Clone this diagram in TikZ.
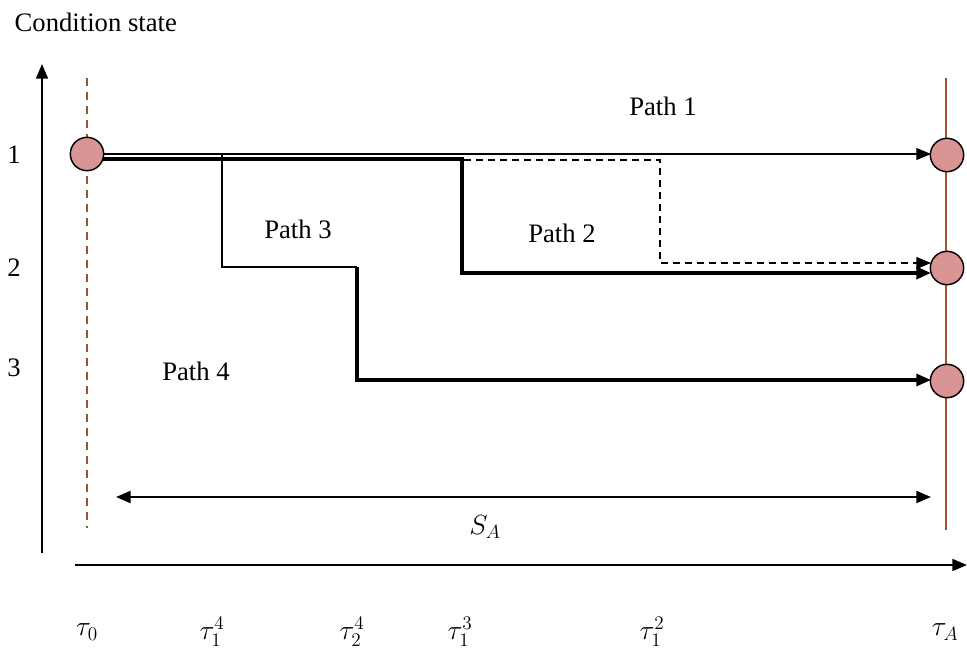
\documentclass[tikz,border=0pt]{standalone}
\usepackage{fontspec}
\setmainfont{Liberation Serif}
\usetikzlibrary{arrows.meta}

\begin{document}
\begin{tikzpicture}[x=0.75pt, y=-0.75pt, >={Triangle[length=11pt,width=9pt]},
  state/.style = {circle, draw, line width=1.1pt, fill=statepink, minimum size=25pt, inner sep=0pt},
  lbl/.style = {font=\fontsize{20}{24}\selectfont},
  tick/.style = {font=\fontsize{22}{26}\selectfont}]
\definecolor{statepink}{HTML}{D99594}
\definecolor{rust}{HTML}{A0522D}
\useasboundingbox (0,0) rectangle (967,653);

% axes
\node[lbl, anchor=west] (title) at (10,22) {Condition state};
\coordinate (ybot) at (42,553); \coordinate (ytop) at (42,64);
\coordinate (xl) at (75,565); \coordinate (xr) at (967,565);
\draw [->, line width=1.2pt] (ybot) -- (ytop);
\draw [->, line width=1.2pt] (xl) -- (xr);

% time lines
\coordinate (t0top) at (87,78); \coordinate (t0bot) at (87,528);
\coordinate (tAtop) at (946,78); \coordinate (tAbot) at (946,530);
\draw [rust, thick, dash pattern=on 6pt off 4.5pt] (t0top) -- (t0bot);
\draw [rust, very thick] (tAtop) -- (tAbot);

% states
\node[state] (s0) at (87,154) {};
\node[state] (e1) at (947,155) {};
\node[state] (e2) at (947,268) {};
\node[state] (e3) at (947,381) {};
\node[lbl] (c1) at (14,155) {1};
\node[lbl] (c2) at (14,268) {2};
\node[lbl] (c3) at (14,368) {3};

% path 1
\coordinate (p1a) at (103,154); \coordinate (p1b) at (931,154);
\draw [->, thick] (p1a) -- (p1b);
% path 2
\coordinate (p2a) at (103,159); \coordinate (p2b) at (462,159);
\coordinate (p2c) at (462,273); \coordinate (p2d) at (931,273);
\draw [->, line width=2.6pt] (p2a) -- (p2b) -- (p2c) -- (p2d);
\coordinate (d1) at (464,160); \coordinate (d2) at (660,160);
\coordinate (d3) at (660,263); \coordinate (d4) at (931,263);
\draw [->, thick, dash pattern=on 5.5pt off 3.5pt] (d1) -- (d2) -- (d3) -- (d4);
% paths 3 and 4
\coordinate (q1) at (222,155); \coordinate (q2) at (222,267);
\coordinate (q3) at (357,267); \coordinate (q4) at (357,380);
\coordinate (q5) at (931,380);
\draw [thick] (q1) -- (q2) -- (q3);
\draw [->, line width=2.3pt] (q3) -- (q4) -- (q5);

\node[lbl] (path1) at (663,106) {Path 1};
\node[lbl] (path2) at (562,233) {Path 2};
\node[lbl] (path3) at (298,229) {Path 3};
\node[lbl] (path4) at (196,371) {Path 4};

% span
\coordinate (sl) at (116,497); \coordinate (sr) at (931,497);
\draw [<->, line width=1.6pt] (sl) -- (sr);
\node[tick] (span) at (485,527) {$S_A$};

% times
\node[tick] (tau0) at (87,632) {$\tau_0$};
\node[tick] (tau41) at (212,632) {$\tau_1^4$};
\node[tick] (tau42) at (352,632) {$\tau_2^4$};
\node[tick] (tau31) at (460,632) {$\tau_1^3$};
\node[tick] (tau21) at (652,632) {$\tau_1^2$};
\node[tick] (tauA) at (945,632) {$\tau_A$};
\end{tikzpicture}
\end{document}
